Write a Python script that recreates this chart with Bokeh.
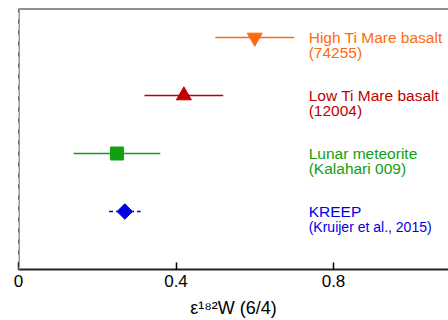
from bokeh.plotting import figure
from bokeh.models import ColumnDataSource, Span, Label, Range1d, FixedTicker
from bokeh.embed import file_html
from bokeh.resources import INLINE
import math

# data
names = ["High Ti Mare basalt", "Low Ti Mare basalt", "Lunar meteorite", "KREEP"]
subnames = ["(74255)", "(12004)", "(Kalahari 009)", "(Kruijer et al., 2015)"]
eps = [0.60, 0.42, 0.25, 0.27]
err = [0.10, 0.10, 0.11, 0.04]
rows = [4, 3, 2, 1]
colors = ["#FF6A10", "#BF0000", "#11A011", "#0000E6"]
markers = ["inverted_triangle", "triangle", "square", "diamond"]
xticks = [0, 0.4, 0.8]
xlabel = "ε¹⁸²W (6/4)"

FONT = "Liberation Sans"

p = figure(width=448, height=320, output_backend="svg", toolbar_location=None,
           x_range=Range1d(0, 430 / 393.75), y_range=Range1d(0, 4.5),
           min_border_left=18, min_border_right=0, min_border_top=8, min_border_bottom=51)
p.outline_line_color = None
p.grid.visible = False
p.yaxis.visible = False

ax = p.xaxis[0]
ax.ticker = FixedTicker(ticks=xticks)
ax.major_label_overrides = {0: "0", 0.4: "0.4", 0.8: "0.8"}
ax.major_tick_in = 7
ax.major_tick_out = 0
ax.minor_tick_line_color = None
ax.axis_line_width = 2
ax.axis_line_color = "#222222"
ax.major_tick_line_width = 1.5
ax.major_label_text_font = FONT
ax.major_label_text_font_size = "17px"
ax.major_label_text_color = "black"
ax.major_label_standoff = 5
ax.axis_label = xlabel
ax.axis_label_text_font = FONT
ax.axis_label_text_font_size = "18px"
ax.axis_label_text_font_style = "normal"
ax.axis_label_text_color = "black"
ax.axis_label_standoff = 8

# frame lines
p.add_layout(Span(location=4.5, dimension="width", line_color="#222222", line_width=2))
p.add_layout(Span(location=0, dimension="height", line_color="#999999", line_width=3))
p.add_layout(Span(location=0, dimension="height", line_color="black", line_width=1, line_dash="4 7"))

for i in range(4):
    src = ColumnDataSource(dict(x0=[eps[i] - err[i]], x1=[eps[i] + err[i]], y=[rows[i]], x=[eps[i]]))
    dash = "4 3" if i == 3 else "solid"
    p.segment(x0="x0", y0="y", x1="x1", y1="y", source=src, line_color=colors[i],
              line_width=1.5, line_dash=dash)
    if markers[i] == "diamond":
        p.scatter(x="x", y="y", source=src, marker="square", angle=math.pi / 4, size=11,
                  fill_color=colors[i], line_color=colors[i])
    else:
        p.scatter(x="x", y="y", source=src, marker=markers[i], size=15 if i < 2 else 13,
                  fill_color=colors[i], line_color=colors[i])

lx = 0.737
for i in range(4):
    p.add_layout(Label(x=lx, y=rows[i], text=names[i], text_color=colors[i],
                       text_font=FONT, text_font_size="15.5px", text_baseline="alphabetic"))
    sub_size = "14px" if i == 3 else "15.5px"
    p.add_layout(Label(x=lx, y=rows[i] - 0.265, text=subnames[i], text_color=colors[i],
                       text_font=FONT, text_font_size=sub_size, text_baseline="alphabetic"))

open("out.html", "w").write(file_html(p, INLINE))
